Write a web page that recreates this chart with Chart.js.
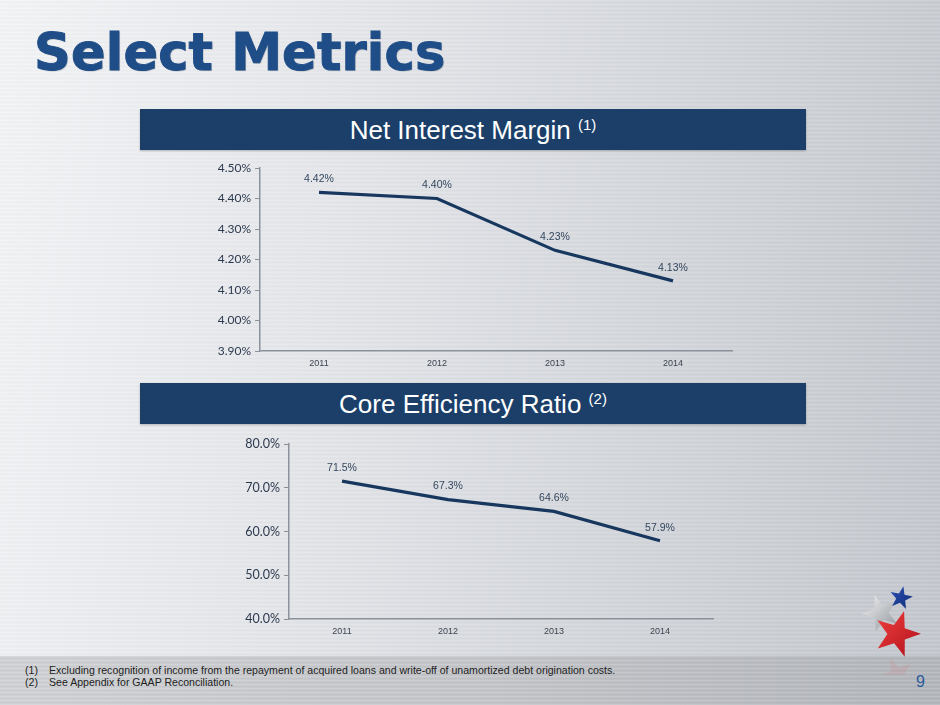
<!DOCTYPE html>
<html>
<head>
<meta charset="utf-8">
<script src="https://cdn.jsdelivr.net/npm/chart.js@4.4.1/dist/chart.umd.min.js"></script>
<style>
  html, body { margin: 0; padding: 0; }
  body {
    width: 940px; height: 705px; position: relative; overflow: hidden;
    font-family: "Liberation Sans", Arial, sans-serif;
    background:
      repeating-linear-gradient(180deg, rgba(255,255,255,0.10) 0px, rgba(255,255,255,0.10) 1px, rgba(0,0,0,0.025) 2px, rgba(0,0,0,0) 4px),
      linear-gradient(100deg, #f3f4f6 0%, #e4e6ea 35%, #d2d5da 70%, #c3c7cd 100%);
  }
  .footer-band {
    position: absolute; left: 0; top: 656px; width: 940px; height: 49px;
    background:
      repeating-linear-gradient(180deg, rgba(255,255,255,0.12) 0px, rgba(255,255,255,0.12) 1px, rgba(0,0,0,0.04) 2px, rgba(0,0,0,0) 4px),
      linear-gradient(90deg, #d0d2d5 0%, #c4c6ca 50%, #b3b6bb 100%);
  }
  h1 {
    position: absolute; left: 34px; top: 23px; margin: 0;
    font-family: "DejaVu Sans", "Liberation Sans", sans-serif;
    font-size: 51px; font-weight: bold; color: #1f4d87; letter-spacing: 0.2px;
    -webkit-text-stroke: 1px #1f4d87;
    text-shadow: 1px 1px 1px rgba(0,0,0,0.2);
  }
  .banner {
    position: absolute; left: 140px; width: 666px; height: 41px;
    background: #1b3f69; color: #fff; text-align: center;
    font-size: 26px; line-height: 42px;
    box-shadow: 0 1px 2px rgba(0,0,0,0.25);
  }
  .banner sup { font-size: 15px; vertical-align: 0; position: relative; top: -9px; }
  .chart { position: absolute; }
  .note { position: absolute; font-size: 11px; line-height: 12px; color: #222; white-space: nowrap;
          transform: scaleX(0.96); transform-origin: left top; }
  .page { position: absolute; left: 916px; top: 673px; font-size: 16px; color: #2a5b9a; }
  #logo { position: absolute; left: 850px; top: 575px; }
</style>
</head>
<body>
<div class="footer-band"></div>
<h1>Select Metrics</h1>

<div class="banner" style="top:109px;">Net Interest Margin <sup>(1)</sup></div>
<div class="chart" style="left:190px; top:155px; width:560px; height:220px;"><canvas id="nimChart"></canvas></div>

<div class="banner" style="top:383px;">Core Efficiency Ratio <sup>(2)</sup></div>
<div class="chart" style="left:210px; top:432px; width:520px; height:210px;"><canvas id="effChart"></canvas></div>

<div class="note" style="left:25px; top:664px;">(1)</div>
<div class="note" style="left:49px; top:664px;">Excluding recognition of income from the repayment of acquired loans and write-off of unamortized debt origination costs.</div>
<div class="note" style="left:25px; top:676px;">(2)</div>
<div class="note" style="left:49px; top:676px;">See Appendix for GAAP Reconciliation.</div>
<div class="page">9</div>

<svg id="logo" width="80" height="100" viewBox="0 0 80 100"></svg>

<script>
// chart data
const years = ['2011', '2012', '2013', '2014'];
const netInterestMargin = [4.42, 4.40, 4.23, 4.13];
const efficiencyRatio = [71.5, 67.3, 64.6, 57.9];
const nimTicks = { min: 3.9, max: 4.5, step: 0.1 };
const effTicks = { min: 40, max: 80, step: 10 };

const lineColor = '#17375e';
const axisColor = '#8c929c';

// value labels drawn above each point
const pointLabels = {
  id: 'pointLabels',
  afterDatasetsDraw(chart, args, opts) {
    const ctx = chart.ctx;
    const ds = chart.data.datasets[0];
    const meta = chart.getDatasetMeta(0);
    ctx.save();
    ctx.font = '10.5px "Liberation Sans", Arial, sans-serif';
    ctx.fillStyle = '#34475e';
    ctx.textAlign = 'center';
    ctx.textBaseline = 'middle';
    meta.data.forEach((pt, i) => {
      ctx.fillText(opts.format(ds.data[i]), pt.x, pt.y - 13);
    });
    ctx.restore();
  }
};

function makeLineChart(canvasId, values, range, fmt, layout) {
  return new Chart(document.getElementById(canvasId), {
    type: 'line',
    data: {
      labels: years,
      datasets: [{
        data: values,
        borderColor: lineColor,
        borderWidth: 3.2,
        pointRadius: 0,
        tension: 0,
        fill: false
      }]
    },
    options: {
      responsive: true,
      maintainAspectRatio: false,
      animation: false,
      layout: { padding: layout.padding },
      plugins: {
        legend: { display: false },
        tooltip: { enabled: false },
        pointLabels: { format: v => fmt(v) + '%' }
      },
      scales: {
        x: {
          offset: true,
          grid: { display: false, drawTicks: false },
          border: { display: true, color: axisColor, width: 1.5 },
          ticks: {
            color: '#3c4450', padding: layout.xPad,
            font: { family: '"Liberation Sans", Arial, sans-serif', size: 9 }
          },
          afterFit: s => { s.height = layout.xHeight; }
        },
        y: {
          min: range.min,
          max: range.max,
          grid: { drawOnChartArea: false, drawTicks: true, tickLength: 5, color: axisColor },
          border: { display: true, color: axisColor, width: 1.5 },
          ticks: {
            stepSize: range.step,
            color: '#2c3a4e', padding: 4,
            font: { family: 'Lato, "Open Sans", sans-serif', size: layout.yFont },
            callback: v => fmt(v) + '%'
          },
          afterFit: s => { s.width = layout.yWidth; }
        }
      }
    },
    plugins: [pointLabels]
  });
}

makeLineChart('nimChart', netInterestMargin, nimTicks, v => v.toFixed(2),
  { padding: { top: 13, right: 18, left: 0, bottom: 0 }, xHeight: 24, xPad: 7, yWidth: 70, yFont: 12 });

makeLineChart('effChart', efficiencyRatio, effTicks, v => v.toFixed(1),
  { padding: { top: 12, right: 17, left: 0, bottom: 0 }, xHeight: 23, xPad: 7, yWidth: 79, yFont: 12.5 });

// decorative star logo
function starPoints(cx, cy, r, inner, rot) {
  const pts = [];
  for (let i = 0; i < 10; i++) {
    const a = rot + i * Math.PI / 5;
    const rr = i % 2 === 0 ? r : r * inner;
    pts.push((cx + rr * Math.sin(a)).toFixed(1) + ',' + (cy - rr * Math.cos(a)).toFixed(1));
  }
  return pts.join(' ');
}
const logo = document.getElementById('logo');
logo.innerHTML =
  '<defs><linearGradient id="gs" x1="0" y1="0" x2="1" y2="1"><stop offset="0" stop-color="#f6f6f6"/><stop offset="1" stop-color="#8f949a"/></linearGradient>' +
  '<linearGradient id="rs" x1="0" y1="0" x2="1" y2="1"><stop offset="0" stop-color="#f04040"/><stop offset="1" stop-color="#b0101a"/></linearGradient>' +
  '<linearGradient id="bs" x1="0" y1="0" x2="1" y2="1"><stop offset="0" stop-color="#2a4fb0"/><stop offset="1" stop-color="#112e7c"/></linearGradient></defs>' +
  '<polygon points="' + starPoints(31, 38, 19, 0.4, -0.35) + '" fill="url(#gs)" opacity="0.95"/>' +
  '<polygon points="' + starPoints(51, 23, 12, 0.4, 0.2) + '" fill="url(#bs)"/>' +
  '<polygon points="' + starPoints(47, 59, 24, 0.4, 0.3) + '" fill="url(#rs)"/>' +
  '<polygon points="' + starPoints(47, 100, 18, 0.4, 3.4) + '" fill="#d86a6a" opacity="0.15"/>';
</script>
</body>
</html>
